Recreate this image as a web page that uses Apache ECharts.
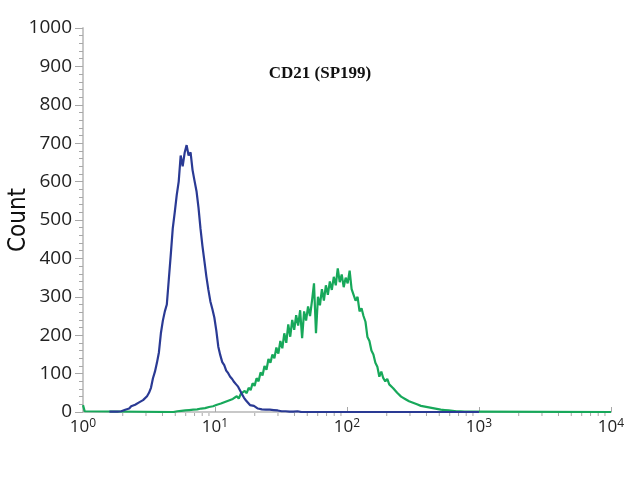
<!DOCTYPE html>
<html>
<head>
<meta charset="utf-8">
<script src="https://cdn.jsdelivr.net/npm/echarts@6/dist/echarts.min.js"></script>
<style>
  html, body { margin: 0; padding: 0; background: #fff; }
  #container { width: 640px; height: 480px; }
</style>
</head>
<body>
<div id="container"></div>
<script>
// histogram bins are spaced evenly in log10 decades (first bin, bin width)
var blueStart = 0.20, greenStart = 0.70, binStep = 0.015;

// isotype control (blue), counts per bin
var blueCounts = [
  1, 0, 1, 2, 1, 3, 2, 4, 6, 11,
  9, 15, 13, 19, 17, 25, 27, 31, 36, 41,
  50, 63, 88, 105, 128, 155, 205, 238, 262, 280,
  345, 410, 478, 520, 565, 600, 668, 640, 675, 695,
  668, 676, 630, 602, 575, 532, 478, 432, 392, 352,
  318, 288, 268, 246, 212, 170, 148, 130, 122, 108,
  101, 92, 86, 78, 72, 66, 56, 46, 37, 30,
  24, 18, 14, 16, 11, 9, 10, 7, 8, 6,
  5, 6, 4, 5, 3, 4, 3, 2, 3, 2,
  2, 1, 2, 1, 1, 2, 1, 0, 1, 0,
  0
];

// CD21 (SP199) stained (green)
var greenCounts = [
  1, 2, 1, 3, 2, 4, 3, 5, 3, 6,
  4, 7, 5, 9, 6, 10, 8, 13, 10, 15,
  12, 19, 15, 22, 18, 26, 22, 30, 26, 34,
  30, 41, 35, 47, 42, 55, 49, 63, 57, 75,
  68, 88, 80, 103, 95, 120, 110, 138, 128, 150,
  140, 168, 152, 185, 166, 205, 180, 228, 196, 240,
  214, 252, 225, 265, 192, 262, 238, 275, 250, 290,
  335, 205, 300, 278, 320, 290, 330, 305, 340, 318,
  352, 330, 374, 338, 358, 325, 350, 335, 368, 320,
  305, 290, 300, 262, 270, 250, 235, 195, 185, 160,
  150, 128, 118, 92, 105, 88, 80, 86, 72, 74,
  62, 58, 50, 52, 40, 44, 34, 37, 28, 30,
  24, 27, 20, 22, 16, 19, 14, 16, 12, 14,
  10, 12, 8, 10, 6, 8, 5, 7, 4, 5,
  3, 4, 2, 3, 2, 3, 1, 2, 1, 2,
  1
];
// small pile-up of events in the first channel of the stained sample
var greenEdge = [[1, 18], [1.03, 2], [1.06, 0]];

var yTicks = [0, 100, 200, 300, 400, 500, 600, 700, 800, 900, 1000];
var xMinorTicks = [
  2, 3, 4, 5, 6, 7, 8, 9,
  20, 30, 40, 50, 60, 70, 80, 90,
  200, 300, 400, 500, 600, 700, 800, 900,
  2000, 3000, 4000, 5000, 6000, 7000, 8000, 9000
];

function toPoints(start, counts) {
  return counts.map(function (c, i) {
    return [Math.pow(10, start + i * binStep), c];
  });
}

var blueData = toPoints(blueStart, blueCounts);
blueData.push([1000, 0]);
var greenData = greenEdge.concat([[Math.pow(10, greenStart - binStep), 0]], toPoints(greenStart, greenCounts));
greenData.push([10000, 0]);

var dom = document.getElementById("container");
var myChart = echarts.init(dom);

var tickColor = '#a8a8a8';

var option = {
  animation: false,
  title: {
    text: 'CD21 (SP199)',
    left: 'center',
    top: 60,
    textStyle: {
      fontFamily: 'Liberation Serif',
      fontWeight: 'bold',
      fontSize: 17,
      color: '#111'
    }
  },
  grid: { left: 83, right: 29, top: 28, bottom: 68, containLabel: false, outerBoundsMode: 'none' },
  xAxis: {
    type: 'log',
    logBase: 10,
    min: 1,
    max: 10000,
    axisLine: { lineStyle: { color: '#c8c8c8', width: 2 } },
    axisTick: { show: true, inside: true, length: 5, lineStyle: { color: tickColor } },
    splitLine: { show: false },
    axisLabel: {
      margin: 6,
      formatter: function (v) {
        return '{b|10}{s|' + Math.round(Math.log10(v)) + '}';
      },
      rich: {
        b: { fontSize: 17, fontFamily: 'Open Sans', color: '#222', lineHeight: 18 },
        s: { fontSize: 12, fontFamily: 'Open Sans', color: '#222', verticalAlign: 'top', lineHeight: 12 }
      }
    }
  },
  yAxis: {
    type: 'value',
    min: yTicks[0],
    max: yTicks[yTicks.length - 1],
    interval: 100,
    name: 'Count',
    nameLocation: 'middle',
    nameGap: 52,
    nameMoveOverlap: false,
    nameTextStyle: { fontFamily: 'DejaVu Sans Condensed', fontSize: 24, color: '#111' },
    axisLine: { show: true, lineStyle: { color: '#c8c8c8', width: 2 } },
    axisTick: { show: true, length: 8, lineStyle: { color: tickColor } },
    minorTick: { show: true, splitNumber: 5, length: 4, lineStyle: { color: tickColor } },
    splitLine: { show: false },
    axisLabel: {
      margin: 11,
      fontSize: 19,
      fontFamily: 'Open Sans',
      color: '#222',
      formatter: function (v) { return String(v); }
    }
  },
  series: [
    {
      // 2..9 minor ticks of each decade, placed by the log x scale
      name: 'minorTicks',
      type: 'custom',
      silent: true,
      clip: false,
      z: 1,
      data: xMinorTicks.map(function (v) { return [v, 0]; }),
      renderItem: function (params, api) {
        var p = api.coord([api.value(0), api.value(1)]);
        return {
          type: 'line',
          shape: { x1: p[0], y1: p[1] + 1, x2: p[0], y2: p[1] + 4 },
          style: { stroke: tickColor, lineWidth: 1 }
        };
      }
    },
    {
      name: 'CD21 (SP199)',
      type: 'line',
      showSymbol: false,
      data: greenData,
      lineStyle: { color: '#17a85a', width: 2.2 },
      z: 2
    },
    {
      name: 'Isotype',
      type: 'line',
      showSymbol: false,
      data: blueData,
      lineStyle: { color: '#2a3a94', width: 2.2 },
      z: 3
    }
  ]
};

myChart.setOption(option, true);
</script>
</body>
</html>
